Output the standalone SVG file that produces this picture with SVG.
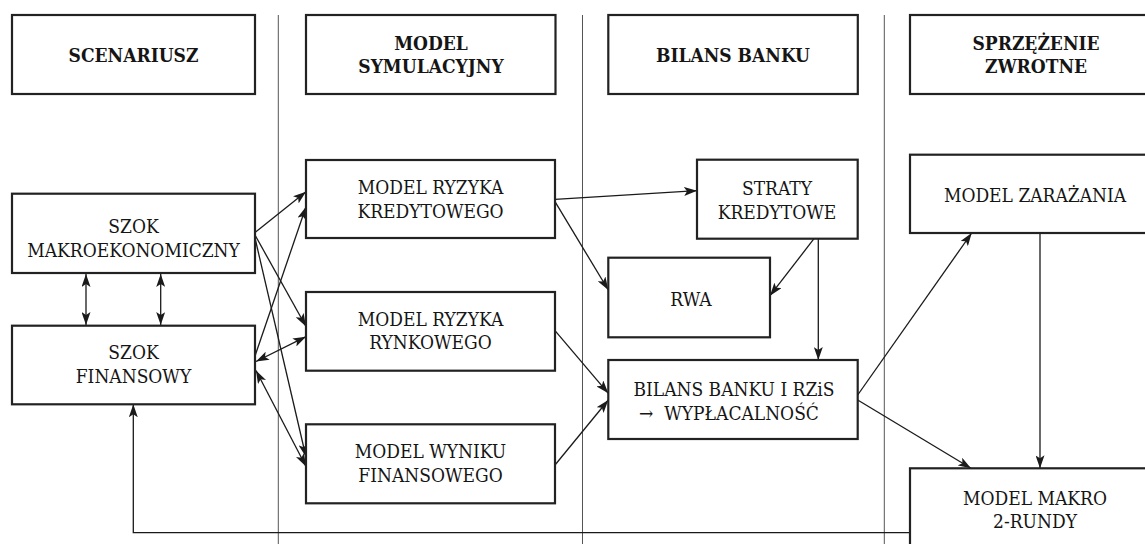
<svg xmlns="http://www.w3.org/2000/svg" width="1145" height="544" viewBox="0 0 1145 544">
<style>
  .sep { stroke: #555; stroke-width: 1; fill: none; }
  .box { fill: #fff; stroke: #222; stroke-width: 2.2; }
  .t { font-family: "DejaVu Serif Condensed", "DejaVu Serif", serif; font-size: 19px; fill: #151515; text-anchor: middle; }
  .h { font-family: "DejaVu Serif Condensed", "DejaVu Serif", serif; font-size: 19px; font-weight: bold; fill: #151515; text-anchor: middle; }
  .c { stroke: #1a1a1a; stroke-width: 1.3; fill: none; }
</style>
<defs>
  <marker id="ah" viewBox="0 0 13 9" refX="13" refY="4.5" markerWidth="13" markerHeight="9" markerUnits="userSpaceOnUse" orient="auto-start-reverse">
    <path d="M0,0 L13,4.5 L0,9 L3,4.5 z" fill="#1a1a1a"/>
  </marker>
</defs>
<rect width="1145" height="544" fill="#fff"/>

<g id="separators">
  <line class="sep" x1="278.3" y1="15" x2="278.3" y2="544"/>
  <line class="sep" x1="582.5" y1="15" x2="582.5" y2="544"/>
  <line class="sep" x1="884.3" y1="15" x2="884.3" y2="544"/>
</g>

<g id="header-scenariusz">
  <rect class="box" x="12" y="15" width="243" height="79"/>
  <text class="h" x="133.5" y="61.5">SCENARIUSZ</text>
</g>
<g id="header-model">
  <rect class="box" x="306" y="15" width="249.5" height="79"/>
  <text class="h" x="431" y="49.6">MODEL</text>
  <text class="h" x="431" y="72.9">SYMULACYJNY</text>
</g>
<g id="header-bilans">
  <rect class="box" x="608.3" y="15" width="249.5" height="79"/>
  <text class="h" x="733" y="61.5">BILANS BANKU</text>
</g>
<g id="header-sprzezenie">
  <rect class="box" x="910" y="15" width="250" height="79"/>
  <text class="h" x="1036" y="49.6">SPRZĘŻENIE</text>
  <text class="h" x="1036" y="72.9">ZWROTNE</text>
</g>

<g id="connectors">
  <line class="c" x1="255" y1="232.5" x2="306" y2="191.7" marker-end="url(#ah)"/>
  <line class="c" x1="255" y1="235" x2="306" y2="326.5" marker-end="url(#ah)"/>
  <line class="c" x1="255" y1="238" x2="306" y2="457" marker-end="url(#ah)"/>
  <line class="c" x1="255" y1="356" x2="306" y2="206.7" marker-end="url(#ah)"/>
  <line class="c" x1="256" y1="361.5" x2="306" y2="336.7" marker-start="url(#ah)" marker-end="url(#ah)"/>
  <line class="c" x1="256" y1="370.5" x2="306" y2="466.5" marker-start="url(#ah)" marker-end="url(#ah)"/>
  <line class="c" x1="86" y1="274" x2="86" y2="325" marker-start="url(#ah)" marker-end="url(#ah)"/>
  <line class="c" x1="160.7" y1="274" x2="160.7" y2="325" marker-start="url(#ah)" marker-end="url(#ah)"/>
  <line class="c" x1="555" y1="199.3" x2="697" y2="190.7" marker-end="url(#ah)"/>
  <line class="c" x1="555" y1="201.7" x2="608.3" y2="290" marker-end="url(#ah)"/>
  <line class="c" x1="814" y1="238.7" x2="770" y2="295.7" marker-end="url(#ah)"/>
  <line class="c" x1="818.3" y1="238.7" x2="818.3" y2="360" marker-end="url(#ah)"/>
  <line class="c" x1="555" y1="330.7" x2="608.3" y2="393.3" marker-end="url(#ah)"/>
  <line class="c" x1="555" y1="465" x2="608.3" y2="400" marker-end="url(#ah)"/>
  <line class="c" x1="857.7" y1="395" x2="971.7" y2="233" marker-end="url(#ah)"/>
  <line class="c" x1="857.7" y1="400" x2="971" y2="468.3" marker-end="url(#ah)"/>
  <line class="c" x1="1040" y1="233" x2="1040" y2="468.3" marker-end="url(#ah)"/>
  <polyline class="c" points="910,532.7 133.3,532.7 133.3,404.3" marker-end="url(#ah)"/>
</g>

<g id="szok-makro">
  <rect class="box" x="12" y="193.7" width="243" height="79.3"/>
  <text class="t" x="133.5" y="233.3">SZOK</text>
  <text class="t" x="133.5" y="257.3">MAKROEKONOMICZNY</text>
</g>
<g id="szok-finansowy">
  <rect class="box" x="12" y="325.7" width="243" height="78.6"/>
  <text class="t" x="133.5" y="359.3">SZOK</text>
  <text class="t" x="133.5" y="382.7">FINANSOWY</text>
</g>
<g id="model-kredytowy">
  <rect class="box" x="306" y="160" width="249" height="78"/>
  <text class="t" x="430.5" y="194.3">MODEL RYZYKA</text>
  <text class="t" x="430.5" y="217.7">KREDYTOWEGO</text>
</g>
<g id="model-rynkowy">
  <rect class="box" x="306" y="292" width="249" height="78.7"/>
  <text class="t" x="430.5" y="325.8">MODEL RYZYKA</text>
  <text class="t" x="430.5" y="349.3">RYNKOWEGO</text>
</g>
<g id="model-wyniku">
  <rect class="box" x="306" y="424.3" width="249" height="79"/>
  <text class="t" x="430.5" y="458">MODEL WYNIKU</text>
  <text class="t" x="430.5" y="481.5">FINANSOWEGO</text>
</g>
<g id="straty">
  <rect class="box" x="697" y="159.7" width="160.7" height="79"/>
  <text class="t" x="777" y="195">STRATY</text>
  <text class="t" x="777" y="218.5">KREDYTOWE</text>
</g>
<g id="rwa">
  <rect class="box" x="608.3" y="257.7" width="161.7" height="79.6"/>
  <text class="t" x="691" y="305.5">RWA</text>
</g>
<g id="bilans-rzis">
  <rect class="box" x="608.3" y="360" width="249.4" height="79"/>
  <text class="t" x="734" y="395.7">BILANS BANKU I RZiS</text>
  <text class="t" x="729" y="420">→&#160; WYPŁACALNOŚĆ</text>
</g>
<g id="model-zarazania">
  <rect class="box" x="910" y="154.7" width="250" height="78.3"/>
  <text class="t" x="1035" y="201.7">MODEL ZARAŻANIA</text>
</g>
<g id="model-makro">
  <rect class="box" x="910" y="468.3" width="250" height="100"/>
  <text class="t" x="1035" y="505">MODEL MAKRO</text>
  <text class="t" x="1035" y="527.7">2-RUNDY</text>
</g>
</svg>
